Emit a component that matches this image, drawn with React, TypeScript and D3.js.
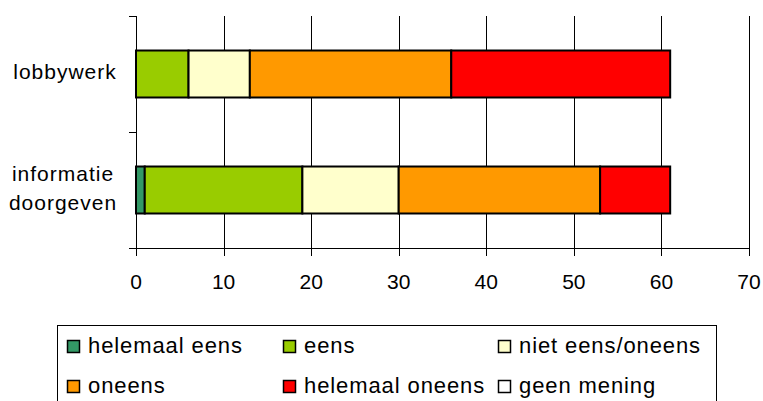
import React from "react";
import * as d3 from "d3";

const categories = ["lobbywerk", "informatie doorgeven"];
const seriesNames = [
  "helemaal eens",
  "eens",
  "niet eens/oneens",
  "oneens",
  "helemaal oneens",
  "geen mening",
];
const seriesColors = ["#339966", "#99CC00", "#FFFFCC", "#FF9900", "#FF0000", "#FFFFFF"];
const lobbywerk = [0, 6, 7, 23, 25, 0];
const informatie = [1, 18, 11, 23, 8, 0];
const xTicks = [0, 10, 20, 30, 40, 50, 60, 70];

const W = 763;
const H = 401;
const font = "'Liberation Sans', Arial, sans-serif";

export default function App() {
  const rows = [lobbywerk, informatie];
  const x = d3.scaleLinear().domain([0, 70]).range([136, 749]);
  const y = d3
    .scaleBand<string>()
    .domain(categories)
    .range([16, 248])
    .paddingInner(0.595)
    .paddingOuter(0.2975);
  const step = y.step();
  const bandEdges = [16, 16 + step, 248];

  const stackRows = rows.map((vals) => {
    let acc = 0;
    return vals.map((v, i) => {
      const s = { x0: acc, x1: acc + v, i };
      acc += v;
      return s;
    });
  });

  const legendCols = [67, 283, 498];
  const legendRows = [340, 380];

  return (
    <svg
      width={W}
      height={H}
      style={{ position: "absolute", left: 0, top: 0, background: "#fff" }}
      fontFamily={font}
    >
      {/* gridlines */}
      {xTicks.slice(1).map((t) => (
        <line
          key={"g" + t}
          x1={Math.round(x(t)) + 0.5}
          x2={Math.round(x(t)) + 0.5}
          y1={16}
          y2={248}
          stroke="#000"
          strokeWidth={1}
        />
      ))}
      {/* y axis */}
      <line x1={136.5} x2={136.5} y1={16} y2={248} stroke="#000" />
      {bandEdges.map((e) => (
        <line key={"yt" + e} x1={129} x2={136} y1={Math.round(e) + 0.5} y2={Math.round(e) + 0.5} stroke="#000" />
      ))}
      {/* x axis */}
      <line x1={129} x2={749.5} y1={248.5} y2={248.5} stroke="#000" />
      {xTicks.map((t) => (
        <g key={"xt" + t}>
          <line
            x1={Math.round(x(t)) + 0.5}
            x2={Math.round(x(t)) + 0.5}
            y1={248}
            y2={256}
            stroke="#000"
          />
          <text x={x(t)} y={289} textAnchor="middle" fontSize={21} fill="#000">
            {t}
          </text>
        </g>
      ))}
      {/* bars */}
      {stackRows.map((segs, r) => {
        const y0 = y(categories[r]) ?? 0;
        return segs
          .filter((s) => s.x1 > s.x0)
          .map((s) => (
            <rect
              key={r + "-" + s.i}
              x={x(s.x0)}
              y={y0}
              width={x(s.x1) - x(s.x0)}
              height={y.bandwidth()}
              fill={seriesColors[s.i]}
              stroke="#000"
              strokeWidth={2}
            />
          ));
      })}
      {/* category labels */}
      <text x={65} y={79} textAnchor="middle" fontSize={21} letterSpacing={1} fill="#000">
        lobbywerk
      </text>
      <text x={63} y={181} textAnchor="middle" fontSize={21} letterSpacing={1} fill="#000">
        informatie
      </text>
      <text x={63} y={210} textAnchor="middle" fontSize={21} letterSpacing={1} fill="#000">
        doorgeven
      </text>
      {/* legend */}
      <rect x={57.5} y={325.5} width={659} height={90} fill="#fff" stroke="#000" strokeWidth={1} />
      {seriesNames.map((name, i) => {
        const lx = legendCols[i % 3];
        const ly = legendRows[Math.floor(i / 3)];
        return (
          <g key={name}>
            <rect x={lx + 0.5} y={ly + 0.5} width={12} height={12} fill={seriesColors[i]} stroke="#000" strokeWidth={1.5} />
            <text x={lx + 21} y={ly + 13} fontSize={22} letterSpacing={0.9} fill="#000">
              {name}
            </text>
          </g>
        );
      })}
    </svg>
  );
}
